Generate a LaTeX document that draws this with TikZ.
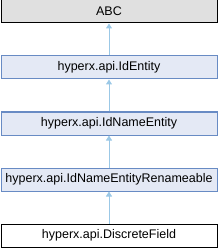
\documentclass[tikz,border=0pt]{standalone}
\usepackage{fontspec}
\setmainfont{Liberation Sans}
\usetikzlibrary{arrows.meta}
\definecolor{boxblue}{RGB}{228,233,245}
\definecolor{edgeblue}{RGB}{104,139,196}
\definecolor{arrblue}{RGB}{155,200,230}
\definecolor{boxgray}{RGB}{224,224,224}
\begin{document}
\begin{tikzpicture}[x=1pt,y=1pt,every node/.style={font=\fontsize{12.5}{14}\selectfont},
  b/.style={draw=edgeblue,fill=boxblue,line width=1pt,minimum width=216pt,minimum height=23pt,inner sep=0pt,anchor=center},
  inh/.style={draw=arrblue,line width=1pt,-{Triangle[length=5pt,width=6pt]}}]
\useasboundingbox (0,0) rectangle (218,-248);
\node[b,draw=black,fill=boxgray] (abc) at (109,-11.5){ABC};
\node[b] (ide) at (109,-67.5){hyperx.api.IdEntity};
\node[b] (idn) at (109,-123.5){hyperx.api.IdNameEntity};
\node[b] (idr) at (109,-179.5){hyperx.api.IdNameEntityRenameable};
\node[b,draw=black,fill=white] (df) at (109,-235.5){hyperx.api.DiscreteField};
\draw[inh] (ide)--(abc);\draw[inh] (idn)--(ide);\draw[inh] (idr)--(idn);\draw[inh] (df)--(idr);
\end{tikzpicture}
\end{document}
